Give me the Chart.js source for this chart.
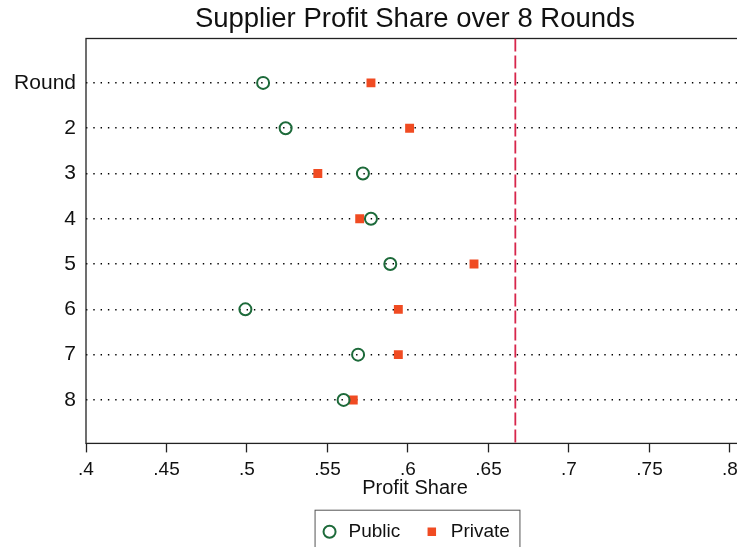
<!DOCTYPE html>
<html>
<head>
<meta charset="utf-8">
<script src="https://cdn.jsdelivr.net/npm/chart.js@4.4.1/dist/chart.umd.min.js"></script>
<style>
  html, body { margin: 0; padding: 0; background: #fff; overflow: hidden; }
  #wrap { width: 752px; height: 560px; }
</style>
</head>
<body>
<div id="wrap"><canvas id="chart" width="752" height="560"></canvas></div>
<script>
// data
const roundLabels = ['Round', '2', '3', '4', '5', '6', '7', '8'];
const publicShare = [0.510, 0.524, 0.572, 0.577, 0.589, 0.499, 0.569, 0.560];
const privateShare = [0.577, 0.601, 0.544, 0.570, 0.641, 0.594, 0.594, 0.566];
const xTicks = [0.4, 0.45, 0.5, 0.55, 0.6, 0.65, 0.7, 0.75, 0.8];
const xTickLabels = ['.4', '.45', '.5', '.55', '.6', '.65', '.7', '.75', '.8'];
const equalSplit = 2 / 3;

// axis ranges
const X_MIN = 0.4, X_MAX = 0.8087;
const Y_MIN = 0.02, Y_MAX = 8.96;

const FONT = '"Liberation Sans", Arial, Helvetica, sans-serif';
const INK = '#111';

// frame round the plot region
const framePlugin = {
  id: 'frame',
  beforeDatasetsDraw(chart) {
    const { ctx, chartArea: a } = chart;
    ctx.save();
    ctx.strokeStyle = '#222';
    ctx.lineWidth = 1.3;
    ctx.strokeRect(a.left, a.top, a.right - a.left, a.bottom - a.top);
    ctx.restore();
  }
};

// box round the legend, like Stata does
const legendBoxPlugin = {
  id: 'legendBox',
  afterDraw(chart) {
    const boxes = chart.legend && chart.legend.legendHitBoxes;
    if (!boxes || !boxes.length) return;
    const left = Math.min(...boxes.map(b => b.left)) - 5;
    const right = Math.max(...boxes.map(b => b.left + b.width)) + 10;
    const top = boxes[0].top - 12;
    const ctx = chart.ctx;
    ctx.save();
    ctx.strokeStyle = '#555';
    ctx.lineWidth = 1;
    ctx.strokeRect(left, top, right - left, 50);
    ctx.restore();
  }
};

const toPoints = vals => vals.map((v, i) => ({ x: v, y: i + 1 }));

new Chart(document.getElementById('chart'), {
  data: {
    datasets: [
      {
        type: 'scatter',
        label: 'Public',
        data: toPoints(publicShare),
        pointStyle: 'circle',
        pointRadius: 6,
        borderWidth: 2,
        borderColor: '#1d6a3a',
        backgroundColor: 'rgba(0,0,0,0)'
      },
      {
        type: 'scatter',
        label: 'Private',
        data: toPoints(privateShare),
        pointStyle: 'rect',
        pointRadius: 6.3,
        borderWidth: 0,
        borderColor: '#f04b22',
        backgroundColor: '#f04b22'
      },
      {
        type: 'line',
        label: 'equal split',
        data: [{ x: equalSplit, y: Y_MIN }, { x: equalSplit, y: Y_MAX }],
        borderColor: '#d7264b',
        borderWidth: 1.8,
        borderDash: [13, 4],
        pointRadius: 0,
        fill: false
      }
    ]
  },
  options: {
    responsive: false,
    animation: false,
    layout: { padding: { left: 0, right: 0, top: 0, bottom: 8.8 } },
    plugins: {
      title: {
        display: true,
        text: 'Supplier Profit Share over 8 Rounds',
        fullSize: false,
        color: INK,
        font: { family: FONT, size: 27.5, weight: 'normal' },
        padding: { top: 2.5, bottom: 3 }
      },
      legend: {
        position: 'bottom',
        fullSize: false,
        labels: {
          filter: item => item.text !== 'equal split',
          usePointStyle: true,
          boxWidth: 19,
          boxHeight: 8.5,
          padding: 22,
          color: INK,
          font: { family: FONT, size: 19 }
        }
      },
      tooltip: { enabled: false }
    },
    scales: {
      x: {
        type: 'linear',
        min: X_MIN,
        max: X_MAX,
        afterBuildTicks: s => { s.ticks = xTicks.map(v => ({ value: v })); },
        ticks: {
          callback: (v, i) => xTickLabels[i],
          color: INK,
          padding: 6,
          maxRotation: 0,
          font: { family: FONT, size: 19 }
        },
        grid: { drawOnChartArea: false, drawTicks: true, tickLength: 9, tickColor: '#222', tickWidth: 1.3 },
        border: { display: false },
        title: {
          display: true,
          text: 'Profit Share',
          color: INK,
          padding: { top: -10.5, bottom: -0.5 },
          font: { family: FONT, size: 20 }
        }
      },
      y: {
        type: 'linear',
        reverse: true,
        min: Y_MIN,
        max: Y_MAX,
        afterFit: s => { s.width = 86; },
        afterBuildTicks: s => { s.ticks = roundLabels.map((_, i) => ({ value: i + 1 })); },
        ticks: {
          callback: (v, i) => roundLabels[i],
          color: INK,
          padding: 10,
          font: { family: FONT, size: 21 }
        },
        grid: { color: '#000', lineWidth: 1.4, drawTicks: false },
        border: { display: false, dash: [1.4, 5.9] }
      }
    }
  },
  plugins: [framePlugin, legendBoxPlugin]
});
</script>
</body>
</html>
